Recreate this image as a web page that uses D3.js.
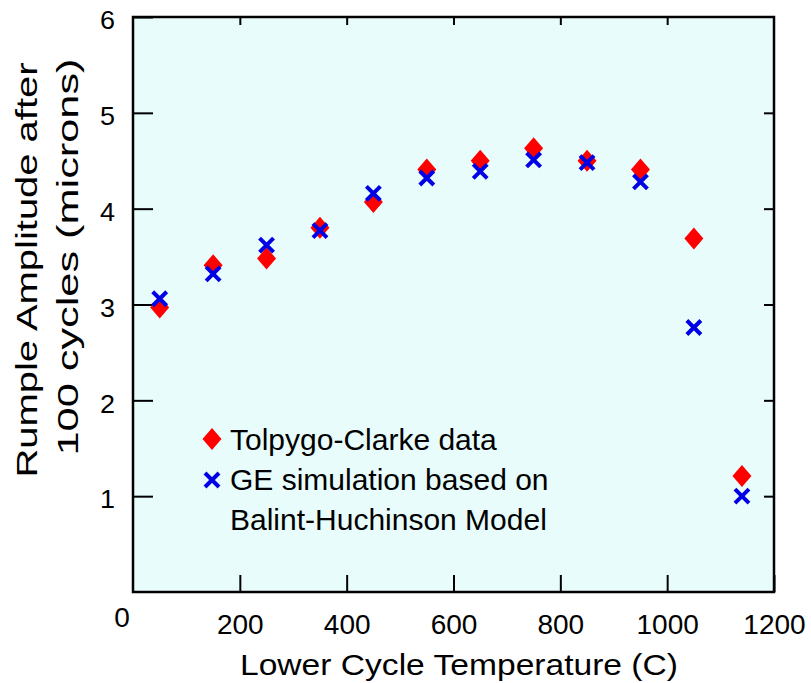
<!DOCTYPE html>
<html>
<head>
<meta charset="utf-8">
<script src="https://cdn.jsdelivr.net/npm/d3@7"></script>
<style>
  html, body { margin: 0; padding: 0; background: #fff; }
  svg { display: block; font-family: Arial, "Liberation Sans", sans-serif; }
</style>
</head>
<body>
<div id="chart"></div>
<script>
// Rumple amplitude vs lower cycle temperature: measured data vs simulation.
const temps = [50, 150, 250, 350, 450, 550, 650, 750, 850, 950, 1050, 1140];
const tolpygoClarke = [2.97, 3.41, 3.48, 3.80, 4.07, 4.41, 4.50, 4.63, 4.50, 4.41, 3.69, 1.21];
const geSimulation = [3.06, 3.32, 3.62, 3.77, 4.16, 4.32, 4.39, 4.51, 4.48, 4.28, 2.76, 1.00];

const xTicks = [200, 400, 600, 800, 1000, 1200];
const yTicks = [1, 2, 3, 4, 5, 6];
const legendLabels = ['Tolpygo-Clarke data', 'GE simulation based on', 'Balint-Huchinson Model'];

const W = 811, H = 683;
const plot = { left: 133, right: 774, top: 17, bottom: 592 };

const svg = d3.select('#chart').append('svg').attr('width', W).attr('height', H);

const x = d3.scaleLinear().domain([0, 1200]).range([plot.left, plot.right]);
const y = d3.scaleLinear().domain([0, 6]).range([plot.bottom, plot.top]);

// plot background
svg.append('rect')
  .attr('x', plot.left).attr('y', plot.top)
  .attr('width', plot.right - plot.left).attr('height', plot.bottom - plot.top)
  .attr('fill', '#e8fcfc');

// axes: ticks point inward, long ones on left/bottom, short mirrored ones on top/right
function styleAxis(sel, fontSize) {
  sel.select('.domain').remove();
  sel.selectAll('.tick line').attr('stroke', '#000').attr('stroke-width', 2);
  sel.selectAll('.tick text').attr('fill', '#000').attr('font-size', fontSize);
  sel.attr('font-family', null);
}

svg.append('g')
  .attr('transform', `translate(${plot.left},0)`)
  .call(d3.axisLeft(y).tickValues(yTicks).tickSize(-20).tickSizeOuter(0).tickPadding(18).tickFormat(d3.format('d')))
  .call(styleAxis, 26)
  .call((g) => g.selectAll('.tick text')
    .attr('dy', '0.45em')
    .attr('textLength', 15).attr('lengthAdjust', 'spacingAndGlyphs'));

svg.append('g')
  .attr('transform', `translate(0,${plot.bottom})`)
  .call(d3.axisBottom(x).tickValues(xTicks).tickSize(-17).tickSizeOuter(0).tickPadding(22).tickFormat(d3.format('d')))
  .call(styleAxis, 28);

svg.append('g')
  .attr('transform', `translate(0,${plot.top})`)
  .call(d3.axisTop(x).tickValues(xTicks.slice(0, -1)).tickSize(-8).tickSizeOuter(0).tickFormat(''))
  .call(styleAxis, 0);

svg.append('g')
  .attr('transform', `translate(${plot.right},0)`)
  .call(d3.axisRight(y).tickValues(yTicks.slice(0, -1)).tickSize(-10).tickSizeOuter(0).tickFormat(''))
  .call(styleAxis, 0);

// shared origin label sits in the corner
svg.append('text')
  .attr('x', x(0) - 11).attr('y', y(0) + 35)
  .attr('text-anchor', 'middle')
  .attr('font-size', 28)
  .text('0');

// frame
svg.append('rect')
  .attr('x', plot.left).attr('y', plot.top)
  .attr('width', plot.right - plot.left).attr('height', plot.bottom - plot.top)
  .attr('fill', 'none').attr('stroke', '#000').attr('stroke-width', 2.5);

// markers
const diamond = 'M0,-11L9.5,0L0,11L-9.5,0Z';
const cross = 'M-7,-7L7,7M-7,7L7,-7';

svg.append('g').selectAll('path')
  .data(temps.map((t, i) => [t, tolpygoClarke[i]]))
  .join('path')
  .attr('d', diamond)
  .attr('transform', (d) => `translate(${x(d[0])},${y(d[1])})`)
  .attr('fill', '#f00');

svg.append('g').selectAll('path')
  .data(temps.map((t, i) => [t, geSimulation[i]]))
  .join('path')
  .attr('d', cross)
  .attr('transform', (d) => `translate(${x(d[0])},${y(d[1])})`)
  .attr('fill', 'none')
  .attr('stroke', '#0000e6')
  .attr('stroke-width', 4);

// legend
const legend = svg.append('g');
legend.append('path').attr('d', diamond).attr('transform', 'translate(212,439)').attr('fill', '#f00');
legend.append('path').attr('d', cross).attr('transform', 'translate(212,480)')
  .attr('fill', 'none').attr('stroke', '#0000e6').attr('stroke-width', 4);
legendLabels.forEach((t, i) => {
  legend.append('text')
    .attr('x', 230).attr('y', 450 + i * 40)
    .attr('font-size', 30)
    .text(t);
});

// axis titles
svg.append('text')
  .attr('x', 459).attr('y', 675)
  .attr('text-anchor', 'middle')
  .attr('font-size', 30)
  .attr('textLength', 438).attr('lengthAdjust', 'spacingAndGlyphs')
  .text('Lower Cycle Temperature (C)');

svg.append('text')
  .attr('transform', 'translate(37,270) rotate(-90)')
  .attr('text-anchor', 'middle')
  .attr('font-size', 30)
  .attr('textLength', 415).attr('lengthAdjust', 'spacingAndGlyphs')
  .text('Rumple Amplitude after');

svg.append('text')
  .attr('transform', 'translate(78,257) rotate(-90)')
  .attr('text-anchor', 'middle')
  .attr('font-size', 30)
  .attr('textLength', 397).attr('lengthAdjust', 'spacingAndGlyphs')
  .text('100 cycles (microns)');
</script>
</body>
</html>
